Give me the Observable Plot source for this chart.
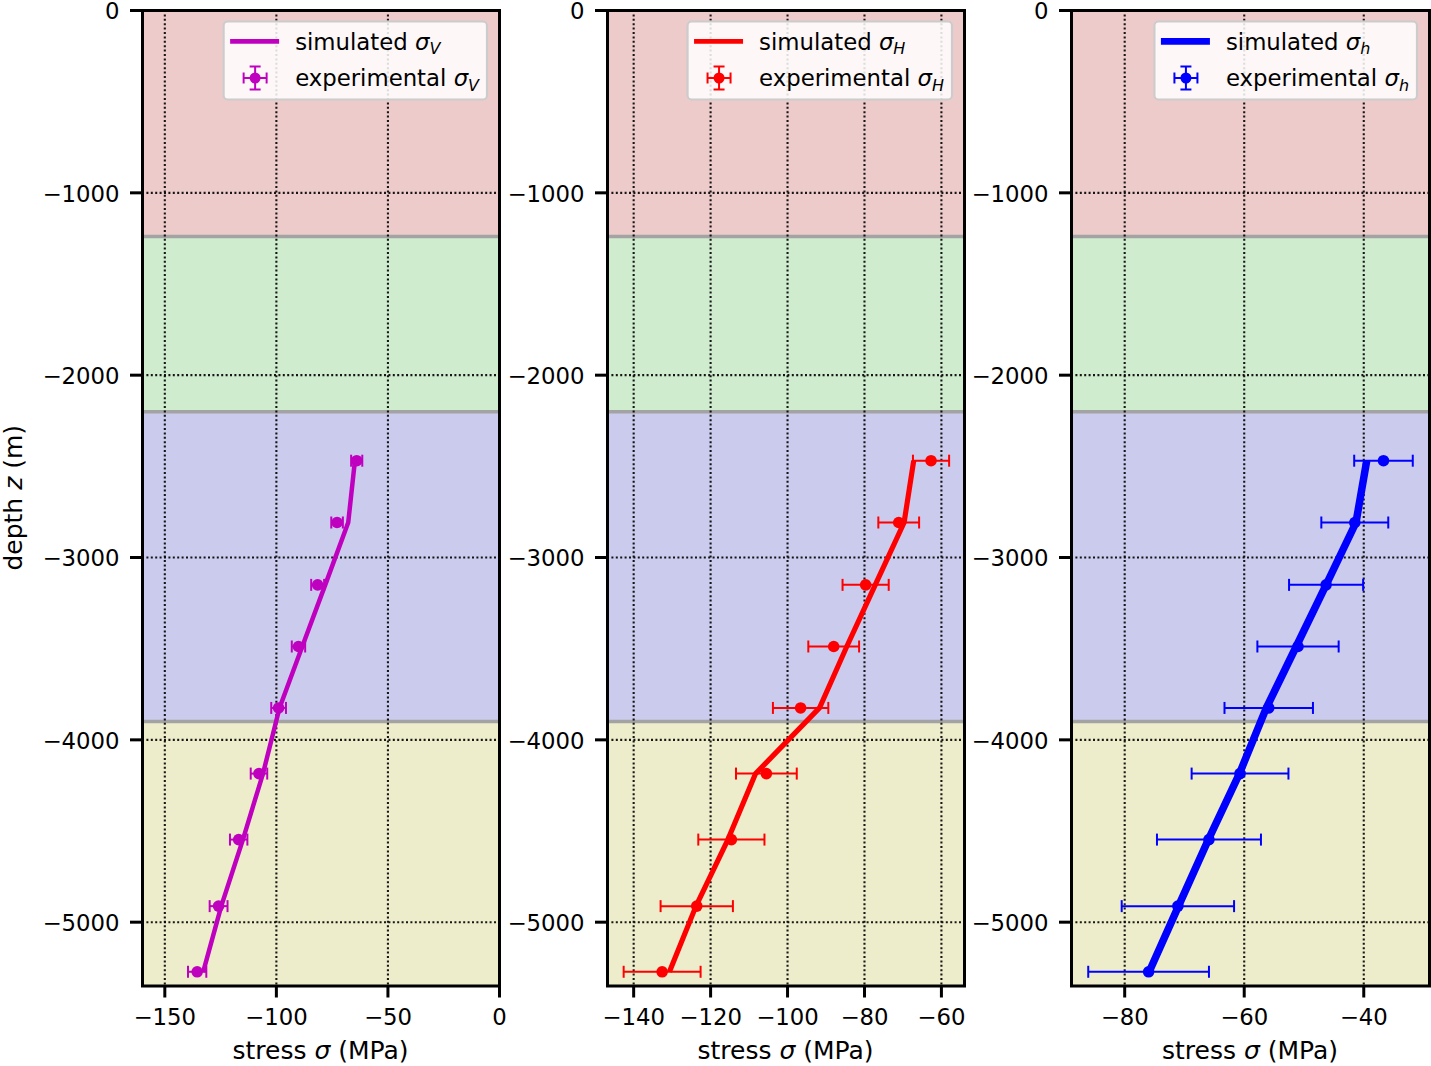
<!DOCTYPE html>
<html><head><meta charset="utf-8">
<script src="https://cdn.jsdelivr.net/npm/d3@7"></script>
<script src="https://cdn.jsdelivr.net/npm/@observablehq/plot@0.6"></script>
<style>
body{margin:0;background:#fff;font-family:"DejaVu Sans",sans-serif;}
#chart{position:relative;width:1431px;height:1066px;overflow:hidden;}
#chart svg{position:absolute;top:0;overflow:visible;}
</style></head><body><div id="chart"></div>
<script>
// ---- data ----
const depths = [-2469, -2808, -3150, -3488, -3825, -4185, -4547, -4912, -5272];

const expV = [-64.0, -72.8, -81.5, -90.1, -99.0, -107.8, -116.9, -125.9, -135.5];
const errV = [2.5, 2.6, 2.9, 3.0, 3.3, 3.7, 3.9, 4.0, 4.1];
const simV = [-64.8, -67.8, -78.1, -88.4, -98.6, -106.0, -115.0, -124.7, -132.8];

const expH = [-62.7, -71.1, -79.7, -88.0, -96.6, -105.5, -114.6, -123.6, -132.6];
const errH = [4.7, 5.3, 6.0, 6.6, 7.2, 7.9, 8.6, 9.4, 10.0];
const simH = [-67.2, -69.7, -77.2, -84.6, -91.7, -108.3, -115.5, -123.8, -130.7];

const exph = [-36.7, -41.5, -46.3, -51.0, -55.9, -60.7, -65.9, -71.1, -76.0];
const errh = [4.9, 5.6, 6.2, 6.8, 7.4, 8.1, 8.7, 9.4, 10.1];
const simh = [-39.5, -41.3, -46.3, -51.3, -56.3, -60.8, -66.0, -71.0, -75.9];

const bandNames = ["upper", "middle", "reservoir", "basement"];
const bandTops = [0, -1240, -2200, -3900];
const bandBottoms = [-1240, -2200, -3900, -5350];
const boundaries = [-1240, -2200, -3900];

const yTicks = [0, -1000, -2000, -3000, -4000, -5000];
const xTicksV = [-150, -100, -50, 0];
const xTicksH = [-140, -120, -100, -80, -60];
const xTicksh = [-80, -60, -40];

const domainV = [-160, 0];
const domainH = [-146.8, -54.0];
const domainh = [-88.9, -29.0];

// ---- styles ----
const bandFill = {upper: "#edcbcb", middle: "#cfecce", reservoir: "#cbcbed", basement: "#ededcc"};
const FONT = "DejaVu Sans";
const FS = 22.8;     // tick labels & legend
const LFS = 25;      // axis labels

const panels = [
  {exp: expV, err: errV, sim: simV, domain: domainV, ticks: xTicksV, sub: "V", color: "#bf00bf", lw: 4.5, legLw: 4.8, left: 0, width: 520, mL: 142, mR: 21, ylabel: true},
  {exp: expH, err: errH, sim: simH, domain: domainH, ticks: xTicksH, sub: "H", color: "#ff0000", lw: 5.2, legLw: 4.8, left: 500, width: 485, mL: 107, mR: 21, ylabel: false},
  {exp: exph, err: errh, sim: simh, domain: domainh, ticks: xTicksh, sub: "h", color: "#0000ff", lw: 7.5, legLw: 6.8, left: 964, width: 467, mL: 107, mR: 2, ylabel: false}
];

const bands = bandNames.map((n, i) => ({name: n, top: bandTops[i], bottom: bandBottoms[i]}));
const capSymbol = {draw(ctx) { ctx.moveTo(0, -6); ctx.lineTo(0, 6); }};
const fmt = d3.format("d");
const chart = document.getElementById("chart");

function addRich(sel, parts, fs) {
  parts.forEach(p => {
    const t = sel.append("tspan").text(p.t);
    if (p.it) t.attr("font-style", "italic");
    if (p.sub) t.attr("font-size", fs * 0.7).attr("dy", 4.8);
  });
  return sel;
}

panels.forEach(p => {
  const rows = depths.map((d, i) => ({depth: d, exp: p.exp[i], err: p.err[i], sim: p.sim[i]}));
  const height = 1066, mT = 10, mB = 80.5;
  const plot = Plot.plot({
    width: p.width, height,
    marginTop: mT, marginBottom: mB, marginLeft: p.mL, marginRight: p.mR,
    x: {domain: p.domain},
    y: {domain: [-5350, 0]},
    color: {type: "identity"},
    style: {fontFamily: FONT, fontSize: FS + "px", color: "#000", background: "transparent", overflow: "visible"},
    marks: [
      Plot.rect(bands, {x1: () => p.domain[0], x2: () => p.domain[1], y1: "top", y2: "bottom", fill: d => bandFill[d.name]}),
      Plot.ruleY(boundaries, {stroke: "#a3a3a3", strokeWidth: 3.5}),
      Plot.gridX(p.ticks, {stroke: "#000", strokeOpacity: 0.9, strokeWidth: 2.1, strokeDasharray: "2,2.4"}),
      Plot.gridY(yTicks, {stroke: "#000", strokeOpacity: 0.9, strokeWidth: 2.1, strokeDasharray: "2,2.4"}),
      Plot.link(rows, {x1: d => d.exp - d.err, x2: d => d.exp + d.err, y1: "depth", y2: "depth", stroke: p.color, strokeWidth: 2}),
      Plot.dot(rows, {x: d => d.exp - d.err, y: "depth", symbol: capSymbol, stroke: p.color, strokeWidth: 2, fill: "none"}),
      Plot.dot(rows, {x: d => d.exp + d.err, y: "depth", symbol: capSymbol, stroke: p.color, strokeWidth: 2, fill: "none"}),
      Plot.line(rows, {x: "sim", y: "depth", stroke: p.color, strokeWidth: p.lw, strokeLinejoin: "round", strokeLinecap: "butt"}),
      Plot.dot(rows, {x: "exp", y: "depth", r: 5.8, fill: p.color, stroke: "none"}),
      Plot.frame({stroke: "#000", strokeWidth: 3}),
      Plot.axisX(p.ticks, {tickSize: 12, tickPadding: 11, strokeWidth: 3, fontSize: FS, tickFormat: fmt, label: null}),
      Plot.axisY(yTicks, {tickSize: 12, strokeWidth: 3, text: null, label: null}),
      Plot.axisY(yTicks, {tickSize: 12, tickPadding: 11, fontSize: FS, tickFormat: fmt, label: null, dy: 1.5, strokeOpacity: 0})
    ]
  });
  plot.style.left = p.left + "px";
  chart.appendChild(plot);

  const svg = d3.select(plot);
  const frameL = p.mL, frameR = p.width - p.mR;
  const cx = (frameL + frameR) / 2;

  // x axis label
  addRich(svg.append("text").attr("x", cx).attr("y", 1059).attr("text-anchor", "middle")
    .attr("font-family", FONT).attr("font-size", LFS).attr("fill", "#000"),
    [{t: "stress "}, {t: "σ", it: true}, {t: " (MPa)"}], LFS);

  // y axis label
  if (p.ylabel) {
    const cy = mT + (height - mT - mB) / 2;
    addRich(svg.append("text").attr("transform", `translate(22,${cy}) rotate(-90)`).attr("text-anchor", "middle")
      .attr("font-family", FONT).attr("font-size", LFS).attr("fill", "#000"),
      [{t: "depth "}, {t: "z", it: true}, {t: " (m)"}], LFS);
  }

  // legend
  const g = svg.append("g").attr("font-family", FONT).attr("font-size", FS).attr("fill", "#000").attr("text-anchor", "start");
  const box = g.append("rect");
  const t1 = addRich(g.append("text").attr("y", 49.5).attr("text-anchor", "start"), [{t: "simulated "}, {t: "σ", it: true}, {t: p.sub, it: true, sub: true}], FS);
  const t2 = addRich(g.append("text").attr("y", 86).attr("text-anchor", "start"), [{t: "experimental "}, {t: "σ", it: true}, {t: p.sub, it: true, sub: true}], FS);
  const tw = Math.max(t1.node().getComputedTextLength(), t2.node().getComputedTextLength());
  const W = 71.5 + tw + 8;
  const bx = frameR - 12 - W;
  box.attr("x", bx).attr("y", 21.5).attr("width", W).attr("height", 78).attr("rx", 4)
    .attr("fill", "#fff").attr("fill-opacity", 0.85).attr("stroke", "#cccccc").attr("stroke-width", 2.2);
  t1.attr("x", bx + 71.5);
  t2.attr("x", bx + 71.5);
  g.append("line").attr("x1", bx + 6.5).attr("x2", bx + 55.5).attr("y1", 41.3).attr("y2", 41.3)
    .attr("stroke", p.color).attr("stroke-width", p.legLw);
  const mx = bx + 31.5, my = 78;
  const mk = g.append("g").attr("stroke", p.color).attr("stroke-width", 2);
  mk.append("line").attr("x1", mx - 11.5).attr("x2", mx + 11.5).attr("y1", my).attr("y2", my);
  mk.append("line").attr("x1", mx).attr("x2", mx).attr("y1", my - 11.5).attr("y2", my + 11.5);
  mk.append("line").attr("x1", mx - 11.5).attr("x2", mx - 11.5).attr("y1", my - 5.5).attr("y2", my + 5.5);
  mk.append("line").attr("x1", mx + 11.5).attr("x2", mx + 11.5).attr("y1", my - 5.5).attr("y2", my + 5.5);
  mk.append("line").attr("x1", mx - 5.5).attr("x2", mx + 5.5).attr("y1", my - 11.5).attr("y2", my - 11.5);
  mk.append("line").attr("x1", mx - 5.5).attr("x2", mx + 5.5).attr("y1", my + 11.5).attr("y2", my + 11.5);
  g.append("circle").attr("cx", mx).attr("cy", my).attr("r", 5.5).attr("fill", p.color);
});
</script>
</body></html>
